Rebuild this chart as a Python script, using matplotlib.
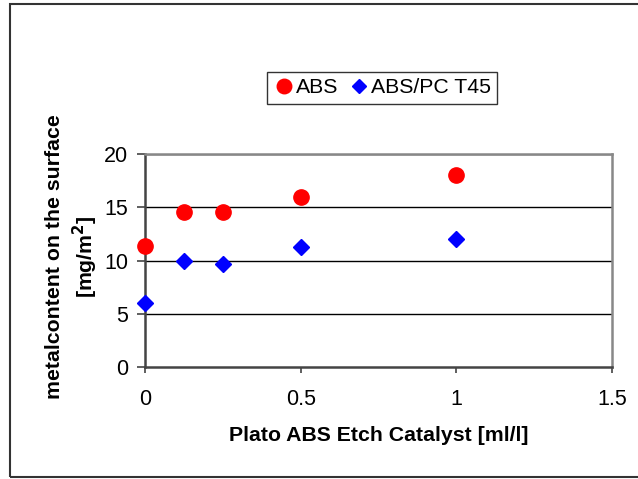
import matplotlib.pyplot as plt
from matplotlib.patches import Rectangle

plt.rcParams['font.family'] = ['Liberation Sans', 'DejaVu Sans']

# data
catalyst = [0, 0.125, 0.25, 0.5, 1.0]
abs_metal = [11.4, 14.6, 14.6, 16.0, 18.0]
abs_pc_metal = [6.0, 10.0, 9.7, 11.3, 12.0]
x_ticks = [0, 0.5, 1, 1.5]
y_ticks = [0, 5, 10, 15, 20]

fig = plt.figure(figsize=(6.38, 4.79), dpi=100)
ax = fig.add_axes([0.2273, 0.2338, 0.7319, 0.4447])

# outer chart frame
fig.patches.append(Rectangle((10 / 638, 2 / 479), 0.995, 473 / 479,
                             transform=fig.transFigure, fill=False,
                             edgecolor='#333333', linewidth=1.5))

for y in y_ticks[1:]:
    ax.axhline(y, color='black', linewidth=1.0, zorder=1)

ax.plot(catalyst, abs_metal, 'o', color='#ff0000', markersize=11,
        label='ABS', zorder=3, clip_on=False)
ax.plot(catalyst, abs_pc_metal, 'D', color='#0000ff', markersize=8,
        label='ABS/PC T45', zorder=3, clip_on=False)

ax.set_xlim(0, 1.5)
ax.set_ylim(0, 20)
ax.set_xticks(x_ticks)
ax.set_xticklabels(['0', '0.5', '1', '1.5'])
ax.set_yticks(y_ticks)

ax.spines['top'].set_color('#888888')
ax.spines['right'].set_color('#888888')
ax.spines['left'].set_color('#444444')
ax.spines['bottom'].set_color('#444444')
for s in ax.spines.values():
    s.set_linewidth(1.8)

ax.tick_params(axis='both', direction='out', labelsize=15.5, color='#444444',
               width=1.2)
ax.tick_params(axis='y', length=6, pad=6)
ax.tick_params(axis='x', length=4, pad=12)

ax.set_xlabel('Plato ABS Etch Catalyst [ml/l]', fontsize=15.3,
              fontweight='bold', labelpad=11)
ax.set_ylabel('metalcontent on the surface\n[mg/m$^{\\mathbf{2}}$]',
              fontsize=15.3, fontweight='bold', linespacing=1.3)
ax.yaxis.set_label_coords(-0.097, 0.516)

fig.legend(loc='center', bbox_to_anchor=(0.599, 0.817), ncol=2,
           fontsize=15.3, frameon=True, fancybox=False, edgecolor='black',
           handletextpad=0.05, columnspacing=0.5, borderpad=0.3,
           handlelength=1.0, markerscale=0.95)

fig.savefig('out.png', dpi=100)
